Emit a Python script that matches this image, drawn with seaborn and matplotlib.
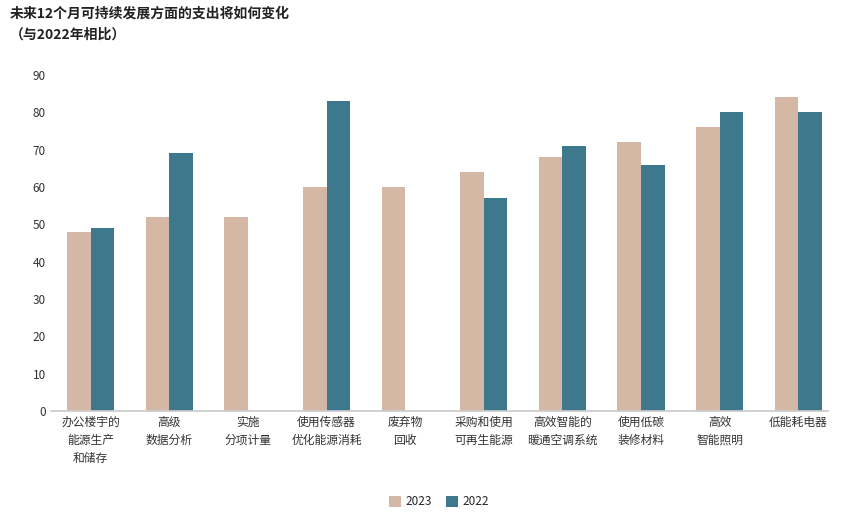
import numpy as np
import pandas as pd
import matplotlib.pyplot as plt
import seaborn as sns

categories = ["办公楼宇的\n能源生产\n和储存", "高级\n数据分析", "实施\n分项计量", "使用传感器\n优化能源消耗",
              "废弃物\n回收", "采购和使用\n可再生能源", "高效智能的\n暖通空调系统", "使用低碳\n装修材料",
              "高效\n智能照明", "低能耗电器"]
values_2023 = [48, 52, 52, 60, 60, 64, 68, 72, 76, 84]
values_2022 = [49, 69, np.nan, 83, np.nan, 57, 71, 66, 80, 80]

df = pd.DataFrame({"cat": categories * 2,
                   "year": ["2023"] * 10 + ["2022"] * 10,
                   "value": values_2023 + values_2022})

sns.set_theme(style="white")
plt.rcParams['font.family'] = ['Noto Sans CJK SC', 'DejaVu Sans']

fig = plt.figure(figsize=(8.45, 5.13), dpi=100)
ax = fig.add_axes([0.06, 0.199, 0.92, 0.655])
sns.barplot(data=df, x="cat", y="value", hue="year", palette=["#D4B8A5", "#3D788C"],
            width=0.6, saturation=1, linewidth=0, ax=ax)
ax.set_ylim(0, 90)
ax.set_yticks(range(0, 91, 10))
ax.set_xlabel("")
ax.set_ylabel("")
ax.tick_params(axis="both", labelsize=8.5, colors="#333333", length=0)
for lbl in ax.get_xticklabels():
    lbl.set_linespacing(1.5)
    lbl.set_multialignment("center")
for s in ["top", "right", "left"]:
    ax.spines[s].set_visible(False)
ax.spines["bottom"].set_color("#cccccc")
ax.set_xlim(-0.51, 9.38)

ax.legend(loc="upper center", bbox_to_anchor=(0.5, -0.22), ncol=2, frameon=False,
          fontsize=8.5, handlelength=1.0, handleheight=1.0, columnspacing=1.2, handletextpad=0.4)

fig.text(0.012, 0.965, "未来12个月可持续发展方面的支出将如何变化", fontsize=10, fontweight="bold", color="#222222")
fig.text(0.012, 0.925, "（与2022年相比）", fontsize=10, fontweight="bold", color="#222222")

fig.savefig("out.png", dpi=100)
